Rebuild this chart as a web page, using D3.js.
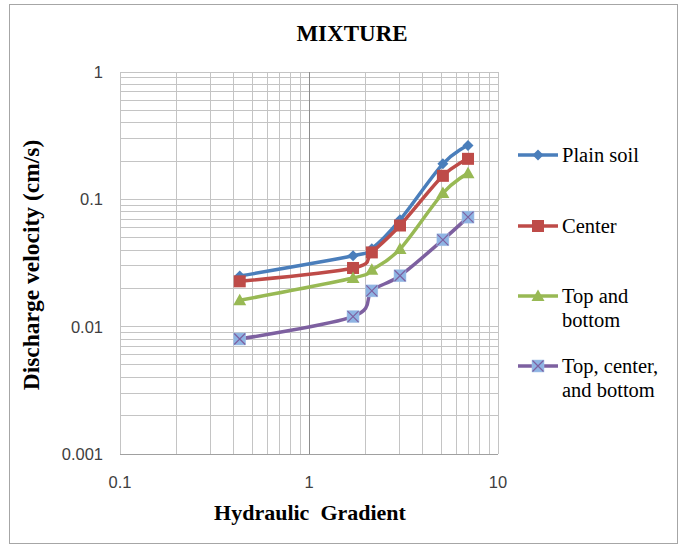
<!DOCTYPE html>
<html>
<head>
<meta charset="utf-8">
<script src="https://cdn.jsdelivr.net/npm/d3@7"></script>
<style>
  body { margin: 0; background: #fff; }
</style>
</head>
<body>
<script>
// hydraulic gradient (x) shared by all series
const gradient = [0.43, 1.71, 2.15, 3.03, 5.11, 6.94];

// discharge velocity (cm/s)
const plainSoil = [0.025, 0.036, 0.041, 0.069, 0.19, 0.265];
const center = [0.0227, 0.0289, 0.0383, 0.0623, 0.153, 0.208];
const topBottom = [0.0161, 0.0241, 0.028, 0.0407, 0.112, 0.160];
const topCenterBottom = [0.0080, 0.0120, 0.0191, 0.0251, 0.0481, 0.0725];

const seriesNames = ["Plain soil", "Center", "Top and bottom", "Top, center, and bottom"];
const xTickLabels = [0.1, 1, 10];
const yTickLabels = [0.001, 0.01, 0.1, 1];

const SERIF = "'Liberation Serif', 'Times New Roman', serif";
const SANS = "'Liberation Sans', Arial, sans-serif";

const W = 680, H = 546;
const svg = d3.select("body").append("svg")
    .attr("width", W)
    .attr("height", H);

// chart border
svg.append("rect")
    .attr("x", 9.5).attr("y", 4.5)
    .attr("width", W - 12).attr("height", H - 7)
    .attr("fill", "#fff")
    .attr("stroke", "#a6a6a6");

const x = d3.scaleLog().domain([0.1, 10]).range([120, 498]);
const y = d3.scaleLog().domain([0.001, 1]).range([454, 72]);

// grid
const grid = svg.append("g");
grid.selectAll("line.v")
    .data(x.ticks())
    .enter().append("line")
    .attr("x1", d => x(d)).attr("x2", d => x(d))
    .attr("y1", y.range()[1]).attr("y2", y.range()[0])
    .attr("stroke", "#c4c4c4").attr("stroke-width", 1)
    .attr("shape-rendering", "crispEdges");
grid.selectAll("line.h")
    .data(y.ticks())
    .enter().append("line")
    .attr("y1", d => y(d)).attr("y2", d => y(d))
    .attr("x1", x.range()[0]).attr("x2", x.range()[1])
    .attr("stroke", "#c4c4c4").attr("stroke-width", 1)
    .attr("shape-rendering", "crispEdges");

// axis lines
svg.append("line")
    .attr("x1", x(1)).attr("x2", x(1))
    .attr("y1", y.range()[1]).attr("y2", y.range()[0])
    .attr("stroke", "#8c8c8c").attr("shape-rendering", "crispEdges");
svg.append("line")
    .attr("x1", x.range()[0]).attr("x2", x.range()[1])
    .attr("y1", y(0.001)).attr("y2", y(0.001))
    .attr("stroke", "#a0a0a0").attr("shape-rendering", "crispEdges");

// tick labels
svg.append("g").selectAll("text")
    .data(yTickLabels)
    .enter().append("text")
    .attr("font-family", SANS)
    .attr("x", 103)
    .attr("y", d => y(d) + 6)
    .attr("text-anchor", "end")
    .attr("font-size", 16.5)
    .attr("fill", "#404040")
    .text(d => String(d));

svg.append("g").selectAll("text")
    .data(xTickLabels)
    .enter().append("text")
    .attr("font-family", SANS)
    .attr("x", d => x(d))
    .attr("y", 488)
    .attr("text-anchor", "middle")
    .attr("font-size", 16.5)
    .attr("fill", "#404040")
    .text(d => String(d));

// titles
svg.append("text")
    .attr("font-family", SERIF)
    .attr("x", 352).attr("y", 41)
    .attr("text-anchor", "middle")
    .attr("font-size", 23).attr("font-weight", "bold")
    .text("MIXTURE");

svg.append("text")
    .attr("font-family", SERIF)
    .attr("x", 310).attr("y", 520)
    .attr("text-anchor", "middle")
    .attr("font-size", 22).attr("font-weight", "bold")
    .style("white-space", "pre")
    .text("Hydraulic  Gradient");

svg.append("text")
    .attr("font-family", SERIF)
    .attr("transform", "translate(39,265) rotate(-90)")
    .attr("text-anchor", "middle")
    .attr("font-size", 23.5).attr("font-weight", "bold")
    .text("Discharge velocity (cm/s)");

const series = [
    { name: seriesNames[0], values: plainSoil, color: "#4a7ebb", marker: "diamond" },
    { name: seriesNames[1], values: center, color: "#be4b48", marker: "square" },
    { name: seriesNames[2], values: topBottom, color: "#98b954", marker: "triangle" },
    { name: seriesNames[3], values: topCenterBottom, color: "#7d60a0", marker: "xbox" }
];

const line = d3.line()
    .curve(d3.curveCatmullRom.alpha(0))
    .x(d => x(d[0]))
    .y(d => y(d[1]));

function drawMarker(g, type, color) {
    if (type === "diamond") {
        g.append("path").attr("d", "M0,-5.5L5.5,0L0,5.5L-5.5,0Z").attr("fill", color);
    } else if (type === "square") {
        g.append("rect").attr("x", -6).attr("y", -6).attr("width", 12).attr("height", 12)
            .attr("fill", color);
    } else if (type === "triangle") {
        g.append("path").attr("d", "M0,-6.5L6.5,5L-6.5,5Z").attr("fill", color);
    } else {
        g.append("rect").attr("x", -6).attr("y", -6).attr("width", 12).attr("height", 12)
            .attr("fill", "#8eb4e3").attr("stroke", "#a8c4e8").attr("stroke-width", 0.5);
        g.append("path").attr("d", "M-5.5,-5.5L5.5,5.5M5.5,-5.5L-5.5,5.5")
            .attr("stroke", color).attr("stroke-width", 1.2);
    }
}

const plot = svg.append("g");
series.forEach(s => {
    const pts = gradient.map((g, i) => [g, s.values[i]]);
    plot.append("path")
        .attr("d", line(pts))
        .attr("fill", "none")
        .attr("stroke", s.color)
        .attr("stroke-width", 3.5)
        .attr("stroke-linejoin", "round");
    pts.forEach(p => {
        const g = plot.append("g").attr("transform", `translate(${x(p[0])},${y(p[1])})`);
        drawMarker(g, s.marker, s.color);
    });
});

// legend
const legendRows = [
    { y: 155, lines: ["Plain soil"] },
    { y: 226, lines: ["Center"] },
    { y: 296, lines: ["Top and", "bottom"] },
    { y: 366, lines: ["Top, center,", "and bottom"] }
];
series.forEach((s, i) => {
    const row = legendRows[i];
    const g = svg.append("g").attr("transform", `translate(518,${row.y})`);
    g.append("line").attr("x1", 0).attr("x2", 40).attr("y1", 0).attr("y2", 0)
        .attr("stroke", s.color).attr("stroke-width", 3.5);
    const m = g.append("g").attr("transform", "translate(20,0)");
    drawMarker(m, s.marker, s.color);
    row.lines.forEach((t, j) => {
        g.append("text")
            .attr("font-family", SERIF)
            .attr("x", 44).attr("y", 7 + j * 24)
            .attr("font-size", 20.5)
            .attr("fill", "#000")
            .text(t);
    });
});
</script>
</body>
</html>
